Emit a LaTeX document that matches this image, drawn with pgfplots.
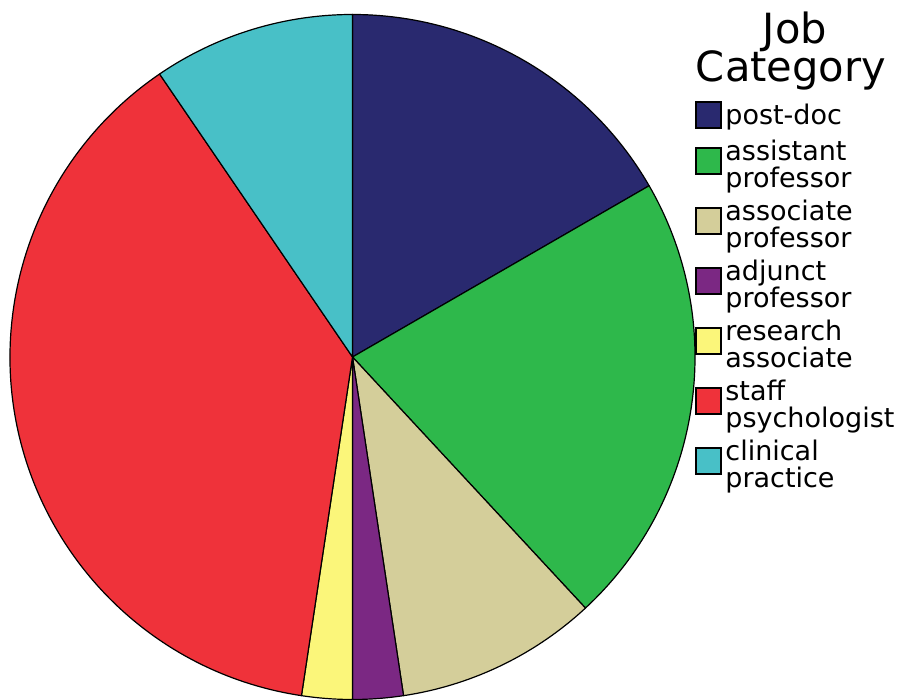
\documentclass[border=0pt]{standalone}
\usepackage{pgfplots}
\pgfplotsset{compat=1.18}
\usepackage{fontspec}
\setmainfont{DejaVu Sans}
\definecolor{cPost}{RGB}{41,41,111}
\definecolor{cAssist}{RGB}{46,184,75}
\definecolor{cAssoc}{RGB}{212,206,154}
\definecolor{cAdj}{RGB}{123,40,131}
\definecolor{cRes}{RGB}{251,246,122}
\definecolor{cStaff}{RGB}{239,50,58}
\definecolor{cClin}{RGB}{72,192,199}
\newcommand{\legfont}{\fontsize{13.5}{14}\selectfont}
\begin{document}
\begin{tikzpicture}
\useasboundingbox (0,0) rectangle (450pt,350pt);
\begin{axis}[
  at={(0,0)}, anchor=origin,
  width=450pt, height=350pt, scale only axis,
  xmin=0, xmax=900, ymin=0, ymax=700,
  hide axis, clip=false,
]
% counts per job category (total 42), clockwise from 12 o'clock
\xdef\cum{0}
\foreach \v/\c in {7/cPost,9/cAssist,4/cAssoc,1/cAdj,1/cRes,16/cStaff,4/cClin}{
  \pgfmathsetmacro{\sa}{90-\cum*360/42}
  \pgfmathsetmacro{\ea}{90-(\cum+\v)*360/42}
  \edef\temp{\noexpand\filldraw[fill=\c,draw=black,line width=0.6pt,line join=round]
    (axis cs:352.5,343) -- ([shift={(\sa:171.25pt)}]axis cs:352.5,343)
    arc[start angle=\sa,end angle=\ea,radius=171.25pt] -- cycle;}
  \temp
  \pgfmathsetmacro{\newcum}{\cum+\v}
  \global\let\cum\newcum
}
% legend title
\node[anchor=base,inner sep=0pt,font=\fontsize{20.8}{22}\selectfont] at (axis cs:795,656) {Job};
\node[anchor=base,inner sep=0pt,font=\fontsize{20.8}{22}\selectfont] at (axis cs:791,618) {Category};
% legend entries: square top (image y), colour, lines
\foreach \t/\c/\a/\b in {102/cPost/post-doc/,148/cAssist/assistant/professor,208/cAssoc/associate/professor,268/cAdj/adjunct/professor,328/cRes/research/associate,388/cStaff/staff/psychologist,448/cClin/clinical/practice}{
  \pgfmathsetmacro{\ytop}{700-\t}
  \pgfmathsetmacro{\ybot}{700-\t-26}
  \pgfmathsetmacro{\yone}{700-\t-(\t==102 ? 23 : 13)}
  \pgfmathsetmacro{\ytwo}{\yone-27}
  \edef\temp{\noexpand\filldraw[fill=\c,draw=black,line width=0.6pt] (axis cs:696,\ybot) rectangle (axis cs:721,\ytop);
    \noexpand\node[anchor=base west,inner sep=0pt,font=\noexpand\legfont] at (axis cs:725,\yone) {\a};
    \noexpand\node[anchor=base west,inner sep=0pt,font=\noexpand\legfont] at (axis cs:725,\ytwo) {\b};}
  \temp
}
\end{axis}
\end{tikzpicture}
\end{document}
